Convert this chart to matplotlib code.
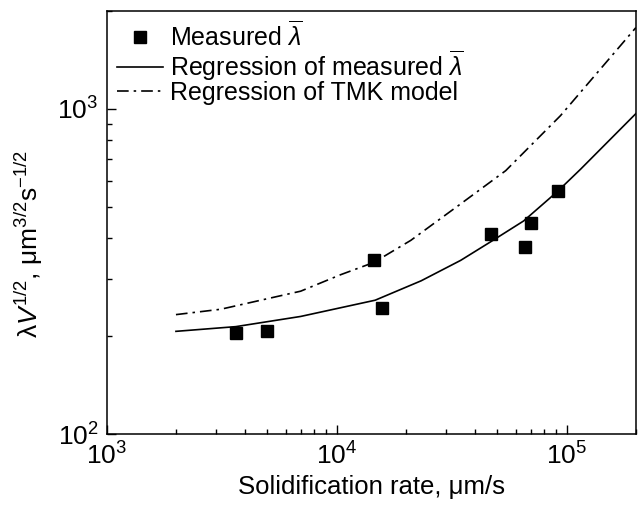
import matplotlib.pyplot as plt
from matplotlib.ticker import LogLocator, NullFormatter

plt.rcParams['font.family'] = ['Liberation Sans', 'DejaVu Sans']
plt.rcParams['mathtext.fontset'] = 'custom'
plt.rcParams['mathtext.rm'] = 'Liberation Sans'
plt.rcParams['mathtext.it'] = 'Liberation Sans:italic'

# measured spacing data
v_meas = [3640, 4960, 14500, 15800, 46700, 65700, 69700, 91400]
lam_meas = [204, 208, 342, 245, 411, 375, 447, 560]

# regression of measured values
v_fit = [2000, 3640, 6970, 14700, 23300, 34600, 46700, 65000, 91000, 115000, 200000]
lam_fit = [207, 214, 230, 258, 296, 342, 390, 452, 556, 652, 966]

# regression of TMK model
v_tmk = [2000, 3130, 6970, 10400, 14500, 21000, 34600, 54300, 94000, 200000]
lam_tmk = [233, 242, 275, 309, 337, 394, 510, 645, 952, 1775]

fig = plt.figure(figsize=(6.41, 5.12), dpi=100)
ax = fig.add_axes([0.1665, 0.152, 0.8255, 0.827])

ax.plot(v_meas, lam_meas, 's', color='black', markersize=8.6, label=r'Measured $\overline{\lambda}$')
ax.plot(v_fit, lam_fit, '-', color='black', lw=1.2, label=r'Regression of measured $\overline{\lambda}$')
ax.plot(v_tmk, lam_tmk, color='black', lw=1.2, linestyle=(0, (7, 3, 1.5, 3)),
        label='Regression of TMK model')

ax.set_xscale('log')
ax.set_yscale('log')
ax.set_xlim(1e3, 2e5)
ax.set_ylim(100, 2000)

ax.xaxis.set_minor_locator(LogLocator(base=10, subs=range(2, 10)))
ax.yaxis.set_minor_locator(LogLocator(base=10, subs=range(2, 10)))
ax.xaxis.set_minor_formatter(NullFormatter())
ax.yaxis.set_minor_formatter(NullFormatter())
ax.tick_params(which='both', direction='in', top=False, right=False, labelsize=19, width=1)
ax.tick_params(which='major', length=6.5, pad=6)
ax.tick_params(which='minor', length=3.5)
for s in ax.spines.values():
    s.set_linewidth(1.1)

ax.set_xlabel('Solidification rate, μm/s', fontsize=18.5, labelpad=4)
ax.set_ylabel('λ$\\mathit{V}^{1/2}$, μm$^{3/2}$s$^{-1/2}$', fontsize=19)
ax.yaxis.set_label_coords(-0.117, 0.45)

ax.legend(loc='upper left', bbox_to_anchor=(0.0195, 0.977), frameon=False, fontsize=18,
          handlelength=1.85, handletextpad=0.28, labelspacing=-0.07,
          borderaxespad=0, borderpad=0)

fig.savefig('out.png', dpi=100)
